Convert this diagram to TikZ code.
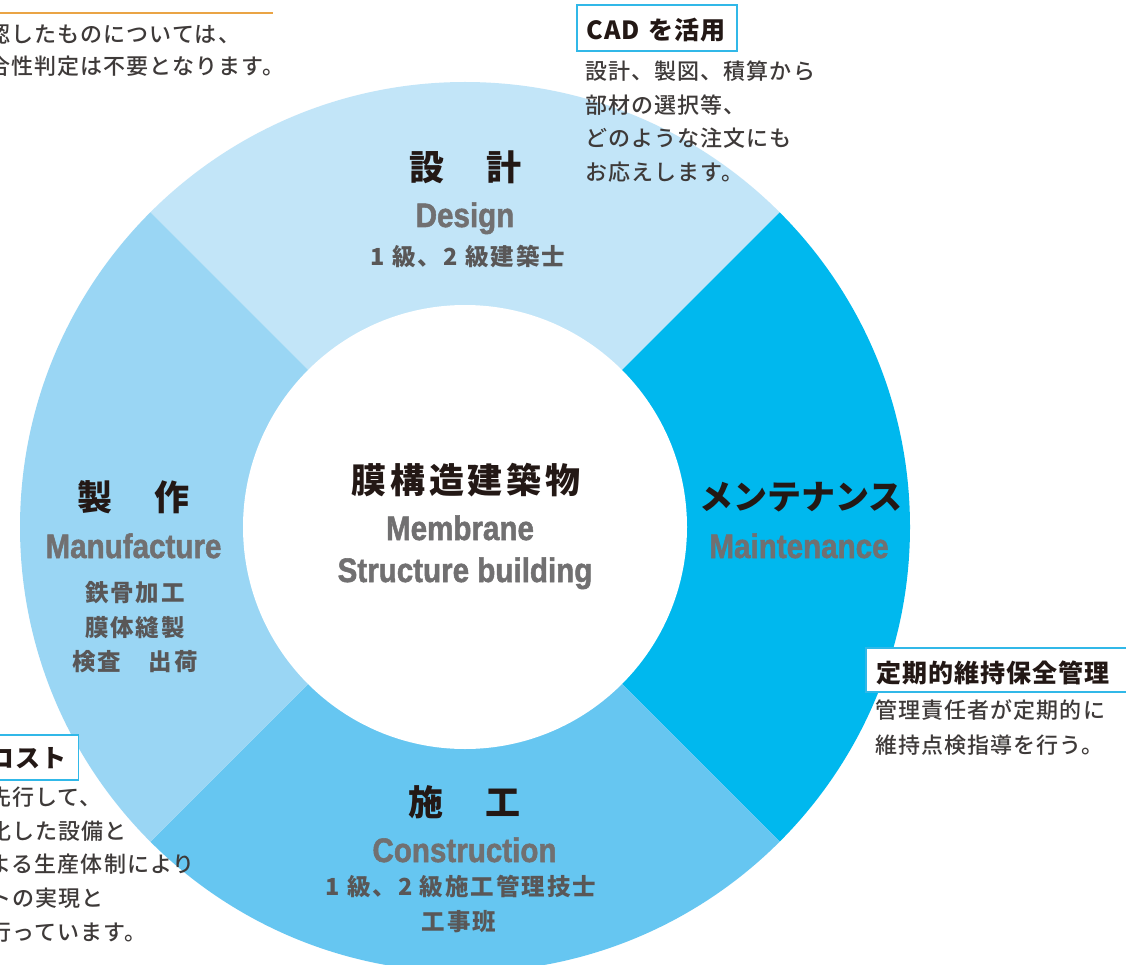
\documentclass[tikz,border=0pt]{standalone}
\usepackage{fontspec}
\usepackage{graphicx}
\newfontfamily\jpfont{Noto Sans CJK JP}
\newfontfamily\jpbody{Noto Sans CJK JP Medium}[LetterSpace=5]
\newfontfamily\jpsub{Noto Sans CJK JP}[LetterSpace=8.5]
\newfontfamily\jpcenter{Noto Sans CJK JP}[LetterSpace=11]
\newfontfamily\jpbox{Noto Sans CJK JP}[LetterSpace=4]
\newfontfamily\enfont{Liberation Sans Bold}[FakeBold=1.6]
\newcommand{\engtxt}[1]{\scalebox{0.87}[1]{#1}}
\definecolor{designc}{HTML}{C2E5F8}
\definecolor{manufc}{HTML}{9AD6F4}
\definecolor{constrc}{HTML}{66C6F1}
\definecolor{maintc}{HTML}{00B8EE}
\definecolor{titlec}{HTML}{231815}
\definecolor{engc}{HTML}{717071}
\definecolor{subc}{HTML}{595757}
\definecolor{bodyc}{HTML}{3E3A39}
\definecolor{boxc}{HTML}{31B8E8}
\definecolor{rulec}{HTML}{EAA445}
\tikzset{
  jtitle/.style={font=\jpfont\bfseries\fontsize{35}{40}\selectfont, text=titlec, inner sep=0pt, anchor=base},
  etitle/.style={font=\enfont\fontsize{34}{40}\selectfont, text=engc, inner sep=0pt, anchor=base},
  subline/.style={font=\jpsub\bfseries\fontsize{23.5}{28}\selectfont, text=subc, inner sep=0pt, anchor=base},
  bodytext/.style={font=\jpbody\fontsize{22}{26}\selectfont, text=bodyc, inner sep=0pt, anchor=base west},
  tagbox/.style={draw=boxc, line width=1.5pt, fill=white, font=\jpbox\bfseries\fontsize{25}{30}\selectfont, text=titlec, inner ysep=0pt},
  toprule/.style={draw=rulec, line width=1.5pt}
}
\begin{document}
\begin{tikzpicture}[x=1pt,y=-1pt]
\useasboundingbox (0,0) rectangle (1126,965);
\fill[white] (0,0) rectangle (1126,965);
\clip (0,0) rectangle (1126,965);
\coordinate (C) at (465,527);
% ring segments
\begin{scope}
  \clip (C) -- ++(-700,-700) -- ++(1400,0) -- cycle;
  \fill[designc] (C) circle[radius=445];
\end{scope}
\begin{scope}
  \clip (C) -- ++(700,-700) -- ++(0,1400) -- cycle;
  \fill[maintc] (C) circle[radius=445];
\end{scope}
\begin{scope}
  \clip (C) -- ++(700,700) -- ++(-1400,0) -- cycle;
  \fill[constrc] (C) circle[radius=445];
\end{scope}
\begin{scope}
  \clip (C) -- ++(-700,700) -- ++(0,-1400) -- cycle;
  \fill[manufc] (C) circle[radius=445];
\end{scope}
\fill[white] (C) circle[radius=222];

% top-left fragment
\coordinate (r1) at (-5,13);
\coordinate (r2) at (273,13);
\draw[toprule] (r1) -- (r2);
\node[bodytext] (tl1) at (-12,42.4) {認したものについては、};
\node[bodytext] (tl2) at (-12,74.4) {合性判定は不要となります。};

% Design
\node[jtitle] (t1) at (465,180.3) {設\hspace{42pt}計};
\node[etitle] (e1) at (465,227) {\engtxt{Design}};
\node[subline] (s1) at (468,265.9) {1 級、2 級建築士};

% Center
\node[jtitle, font=\jpcenter\bfseries\fontsize{35}{40}\selectfont] (c1) at (466,493.3) {膜構造建築物};
\node[etitle] (c2) at (460,540) {\engtxt{Membrane}};
\node[etitle] (c3) at (465,582) {\engtxt{Structure building}};

% Manufacture
\node[jtitle] (t2) at (133,510.8) {製\hspace{42pt}作};
\node[etitle] (e2) at (133.5,558) {\engtxt{Manufacture}};
\node[subline] (s2a) at (135,601.4) {鉄骨加工};
\node[subline] (s2b) at (135,636.4) {膜体縫製};
\node[subline] (s2c) at (135,670.6) {検査　出荷};

% Maintenance
\node[jtitle, font=\jpfont\bfseries\fontsize{34}{40}\selectfont] (t3) at (801,509) {メンテナンス};
\node[etitle] (e3) at (799,558) {\engtxt{Maintenance}};

% Construction
\node[jtitle] (t4) at (464,815) {施\hspace{42pt}工};
\node[etitle] (e4) at (464.5,862) {\engtxt{Construction}};
\node[subline] (s4a) at (461,895.9) {1 級、2 級施工管理技士};
\node[subline] (s4b) at (459,930.6) {工事班};

% CAD annotation
\node[tagbox, anchor=base west, text height=35pt, text depth=11pt, text width=140pt, align=left, inner xsep=10pt] (cad) at (576,40) {CAD を活用};
\node[bodytext] (cb1) at (585,79.4) {設計、製図、積算から};
\node[bodytext] (cb2) at (585,113.1) {部材の選択等、};
\node[bodytext] (cb3) at (585,146.8) {どのような注文にも};
\node[bodytext] (cb4) at (585,180.5) {お応えします。};

% Maintenance annotation
\node[tagbox, anchor=base west, text height=34pt, text depth=10pt, text width=260pt, align=left, inner xsep=11pt] (mt) at (865,682) {定期的維持保全管理};
\node[bodytext] (mb1) at (875,718.4) {管理責任者が定期的に};
\node[bodytext] (mb2) at (875,753.4) {維持点検指導を行う。};

% Cost annotation
\node[tagbox, anchor=base east, text height=32pt, text depth=13pt, text width=80pt, align=right, inner xsep=12pt] (cost) at (79,767) {コスト};
\node[bodytext] (kb1) at (-11,805.4) {先行して、};
\node[bodytext] (kb2) at (-11,839.15) {化した設備と};
\node[bodytext] (kb3) at (-11,872.9) {よる生産体制により};
\node[bodytext] (kb4) at (-11,906.65) {トの実現と};
\node[bodytext] (kb5) at (-11,940.4) {行っています。};
\end{tikzpicture}
\end{document}
